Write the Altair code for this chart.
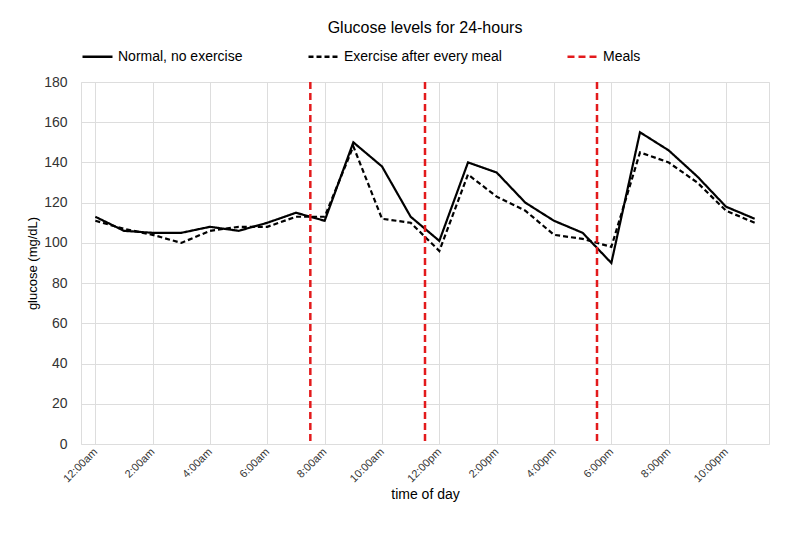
import pandas as pd
import altair as alt

HOURS = ["12:00am", "1:00am", "2:00am", "3:00am", "4:00am", "5:00am", "6:00am", "7:00am",
         "8:00am", "9:00am", "10:00am", "11:00am", "12:00pm", "1:00pm", "2:00pm", "3:00pm",
         "4:00pm", "5:00pm", "6:00pm", "7:00pm", "8:00pm", "9:00pm", "10:00pm", "11:00pm"]
NORMAL = [113, 106, 105, 105, 108, 106, 110, 115, 111, 150, 138, 113,
          101, 140, 135, 120, 111, 105, 90, 155, 146, 133, 118, 112]
EXERCISE = [111, 107, 104, 100, 106, 108, 108, 113, 113, 148, 112, 110,
            96, 134, 123, 116, 104, 102, 98, 145, 140, 130, 116, 110]
MEALS = [7.5, 11.5, 17.5]

S_NORMAL = "Normal, no exercise"
S_EX = "Exercise after every meal"
S_MEAL = "Meals"
FONT = "Liberation Sans"

rows = []
for i, h in enumerate(HOURS):
    rows.append({"idx": i, "glucose": NORMAL[i], "series": S_NORMAL})
    rows.append({"idx": i, "glucose": EXERCISE[i], "series": S_EX})
df = pd.DataFrame(rows)
meal_df = pd.DataFrame({"idx": MEALS, "series": S_MEAL})

label_expr = "[" + ",".join(f"'{h}'" for h in HOURS) + "][datum.value]"

dom = [S_NORMAL, S_EX, S_MEAL]
color = alt.Color("series:N", scale=alt.Scale(domain=dom, range=["black", "black", "#e31a1c"]),
                  legend=alt.Legend(title=None, orient="top", direction="horizontal",
                                    symbolSize=900, symbolStrokeWidth=2.5, labelFontSize=14,
                                    labelFont=FONT, columnPadding=60, offset=18))
dash = alt.StrokeDash("series:N", scale=alt.Scale(domain=dom, range=[[1, 0], [5, 3], [7, 4]]),
                      legend=None)

x = alt.X("idx:Q", scale=alt.Scale(domain=[-0.5, 23.5], nice=False, zero=False),
          axis=alt.Axis(values=list(range(24)), labelExpr=label_expr, labelAngle=-45,
                        labelAlign="right", labelBaseline="middle", labelOverlap=False,
                        title="time of day", grid=True, gridColor="#dddddd",
                        domain=False, ticks=False, labelFontSize=11, titleFontSize=14,
                        titleFontWeight="normal", labelPadding=6,
                        labelFont=FONT, titleFont=FONT, labelColor="#333"))

lines = alt.Chart(df).mark_line(strokeWidth=2.2).encode(
    x=x,
    y=alt.Y("glucose:Q", scale=alt.Scale(domain=[0, 180]),
            axis=alt.Axis(values=list(range(0, 181, 20)), title="glucose (mg/dL)",
                          gridColor="#dddddd", domain=False, ticks=False,
                          labelFontSize=14, titleFontSize=13, labelFont=FONT,
                          titleFontWeight="normal",
                          titleFont=FONT, labelColor="#333", labelPadding=14)),
    color=color,
    strokeDash=dash,
    detail="series:N",
)

meals = alt.Chart(meal_df).mark_rule(strokeWidth=2.5).encode(
    x="idx:Q", color=color, strokeDash=dash,
)

chart = (lines + meals).properties(
    width=688, height=362,
    padding={"left": 18, "top": 12, "right": 5, "bottom": 5},
    title=alt.TitleParams("Glucose levels for 24-hours", fontSize=16, font=FONT,
                          fontWeight="normal"),
).configure_view(stroke="#dddddd")

chart.save("out.html", embed_options={"renderer": "svg", "actions": False})
